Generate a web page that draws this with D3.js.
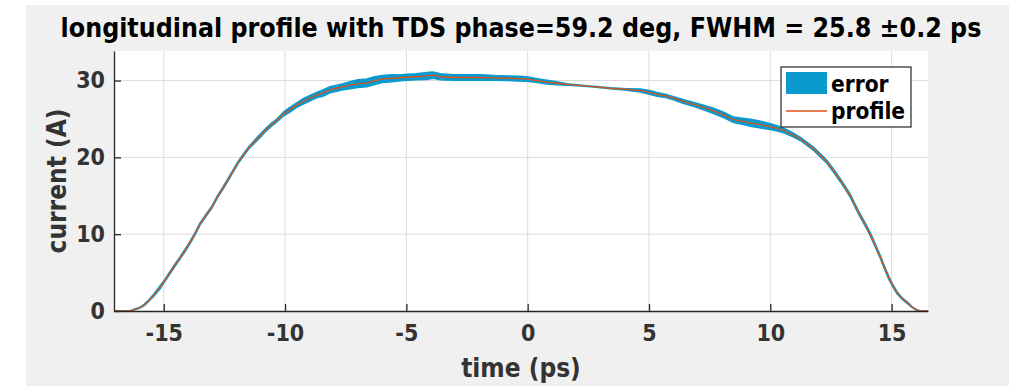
<!DOCTYPE html>
<html>
<head>
<meta charset="utf-8">
<script src="https://cdn.jsdelivr.net/npm/d3@7"></script>
<style>
  body { margin: 0; background: #fff; }
  svg { display: block; }
</style>
</head>
<body>
<div id="chart"></div>
<script>
const chartTitle = "longitudinal profile with TDS phase=59.2 deg, FWHM = 25.8 \u00b10.2 ps"
const xLabel = "time (ps)"
const yLabel = "current (A)"
const legendLabels = ["error", "profile"]
const xTicks = [-15, -10, -5, 0, 5, 10, 15]
const yTicks = [0, 10, 20, 30]

// time axis of the measured profile (ps)
const timePs = [
  -17.0, -16.4, -16.2, -16.0, -15.8, -15.6, -15.4, -15.15, -14.95, -14.74,
  -14.55, -14.33, -14.12, -13.92, -13.72, -13.51, -13.25, -13.02, -12.78, -12.54,
  -12.33, -12.13, -11.92, -11.72, -11.48, -11.24, -11.0, -10.82, -10.58, -10.34,
  -10.04, -9.8, -9.52, -9.25, -8.97, -8.7, -8.42, -8.15, -7.87, -7.6,
  -7.32, -7.0, -6.63, -6.3, -6.0, -5.6, -5.12, -4.6, -4.16, -3.9,
  -3.6, -3.06, -2.5, -1.96, -1.4, -0.86, -0.4, -0.03, 0.4, 0.79,
  1.2, 1.62, 2.2, 2.71, 3.4, 4.09, 4.64, 4.98, 5.33, 5.7,
  6.01, 6.4, 6.84, 7.25, 7.66, 8.1, 8.49, 8.85, 9.18, 9.55,
  9.93, 10.25, 10.55, 10.9, 11.24, 11.5, 11.79, 12.05, 12.34, 12.6,
  12.89, 13.1, 13.3, 13.5, 13.71, 13.92, 14.12, 14.33, 14.54, 14.7,
  14.88, 15.05, 15.22, 15.44, 15.64, 15.85, 16.05, 16.2, 16.5
]
// current (A)
const currentA = [
  0, 0, 0.2, 0.4, 0.8, 1.4, 2.1, 3.1, 4.0, 5.0,
  5.9, 6.9, 7.9, 8.9, 10.0, 11.3, 12.5, 13.5, 14.9, 16.1,
  17.2, 18.3, 19.4, 20.3, 21.3, 22.1, 22.9, 23.5, 24.2, 24.8,
  25.7, 26.2, 26.8, 27.3, 27.7, 28.1, 28.4, 28.8, 29.0, 29.2,
  29.4, 29.6, 29.7, 30.0, 30.2, 30.3, 30.4, 30.5, 30.6, 30.7,
  30.5, 30.4, 30.4, 30.4, 30.35, 30.3, 30.25, 30.2, 30.0, 29.8,
  29.65, 29.5, 29.35, 29.2, 29.0, 28.85, 28.7, 28.5, 28.2, 28.0,
  27.7, 27.3, 26.9, 26.5, 26.05, 25.5, 24.9, 24.7, 24.5, 24.3,
  24.05, 23.8, 23.5, 23.0, 22.4, 21.8, 21.1, 20.3, 19.4, 18.3,
  17.0, 16.0, 15.0, 13.7, 12.4, 11.2, 10.0, 8.5, 7.0, 5.7,
  4.35, 3.3, 2.4, 1.6, 1.1, 0.5, 0.1, 0, 0
]
// error half width (A)
const errorA = [
  0, 0, 0.05, 0.05, 0.1, 0.1, 0.15, 0.2, 0.15, 0.15,
  0.15, 0.15, 0.15, 0.15, 0.15, 0.15, 0.15, 0.15, 0.15, 0.15,
  0.15, 0.15, 0.15, 0.15, 0.15, 0.2, 0.2, 0.2, 0.2, 0.2,
  0.25, 0.3, 0.3, 0.35, 0.35, 0.35, 0.4, 0.4, 0.4, 0.4,
  0.45, 0.5, 0.5, 0.5, 0.45, 0.45, 0.4, 0.4, 0.45, 0.4,
  0.4, 0.35, 0.35, 0.35, 0.3, 0.3, 0.3, 0.3, 0.25, 0.25,
  0.2, 0.1, 0.05, 0.05, 0.05, 0.1, 0.2, 0.25, 0.25, 0.2,
  0.2, 0.25, 0.25, 0.3, 0.35, 0.35, 0.35, 0.4, 0.45, 0.45,
  0.4, 0.35, 0.3, 0.25, 0.2, 0.2, 0.2, 0.2, 0.2, 0.2,
  0.2, 0.2, 0.2, 0.2, 0.2, 0.2, 0.2, 0.2, 0.2, 0.2,
  0.2, 0.15, 0.15, 0.1, 0.1, 0.05, 0.05, 0, 0
]

const width = 1009, height = 386
const plot = { left: 114, right: 928, top: 51, bottom: 311 }
const errColor = "#0a9acd"
const lineColor = "#d95319"
const axisColor = "#262626"
const labelColor = "#333"
const font = "'DejaVu Sans Condensed', 'DejaVu Sans', sans-serif"

const data = timePs.map((t, i) => ({ t: t, v: currentA[i], e: errorA[i] }))

const x = d3.scaleLinear().domain([-17.05, 16.5]).range([plot.left, plot.right])
const y = d3.scaleLinear().domain([0, 33.85]).range([plot.bottom, plot.top])

const svg = d3.select("#chart").append("svg")
  .attr("width", width)
  .attr("height", height)
  .attr("viewBox", `0 0 ${width} ${height}`)
  .style("font-stretch", "condensed")

// figure background
svg.append("rect")
  .attr("x", 26).attr("y", 5)
  .attr("width", width - 26).attr("height", height - 5)
  .attr("fill", "#f0f0f0")

svg.append("rect")
  .attr("x", plot.left).attr("y", plot.top)
  .attr("width", plot.right - plot.left).attr("height", plot.bottom - plot.top)
  .attr("fill", "#fff")

// grid
const grid = svg.append("g")
grid.selectAll(".vg")
  .data(xTicks)
  .join("line")
    .attr("x1", d => x(d)).attr("x2", d => x(d))
    .attr("y1", plot.top).attr("y2", plot.bottom)
    .attr("stroke", "#dcdcdc")
    .attr("stroke-width", 1)
grid.selectAll(".hg")
  .data(yTicks.filter(d => d > 0))
  .join("line")
    .attr("x1", plot.left).attr("x2", plot.right)
    .attr("y1", d => y(d)).attr("y2", d => y(d))
    .attr("stroke", "#dcdcdc")
    .attr("stroke-width", 1)

// error band
const band = d3.area()
  .x(d => x(d.t))
  .y0(d => y(d.v - d.e))
  .y1(d => y(d.v + d.e))
svg.append("path")
  .datum(data)
  .attr("d", band)
  .attr("fill", errColor)
  .attr("stroke", errColor)
  .attr("stroke-width", 1.5)

// profile line
const line = d3.line()
  .x(d => x(d.t))
  .y(d => y(d.v))
svg.append("path")
  .datum(data)
  .attr("d", line)
  .attr("fill", "none")
  .attr("stroke", lineColor)
  .attr("stroke-width", 1.3)

// axes
const xAxis = d3.axisBottom(x)
  .tickValues(xTicks)
  .tickSizeInner(-7)
  .tickSizeOuter(0)
  .tickPadding(14)
  .tickFormat(d => String(d))
const gx = svg.append("g")
  .attr("transform", `translate(0, ${plot.bottom})`)
  .call(xAxis)

const yAxis = d3.axisLeft(y)
  .tickValues(yTicks)
  .tickSizeInner(-7)
  .tickSizeOuter(0)
  .tickPadding(9)
  .tickFormat(d => String(d))
const gy = svg.append("g")
  .attr("transform", `translate(${plot.left}, 0)`)
  .call(yAxis)

for (const g of [gx, gy]) {
  g.select(".domain").attr("stroke", axisColor).attr("stroke-width", 1.3)
  g.selectAll(".tick line").attr("stroke", axisColor).attr("stroke-width", 1.3)
  g.selectAll(".tick text")
    .attr("fill", labelColor)
    .style("font-family", font)
    .style("font-size", "23px")
    .style("font-weight", "bold")
}

// labels
svg.append("text")
  .attr("x", (plot.left + plot.right) / 2)
  .attr("y", 37)
  .attr("text-anchor", "middle")
  .style("font-family", font)
  .style("font-size", "26.5px")
  .style("font-weight", "bold")
  .attr("fill", "#000")
  .text(chartTitle)

svg.append("text")
  .attr("x", (plot.left + plot.right) / 2)
  .attr("y", 377)
  .attr("text-anchor", "middle")
  .style("font-family", font)
  .style("font-size", "26px")
  .style("font-weight", "bold")
  .attr("fill", labelColor)
  .text(xLabel)

svg.append("text")
  .attr("transform", `translate(57, ${(plot.top + plot.bottom) / 2}) rotate(-90)`)
  .attr("text-anchor", "middle")
  .attr("dominant-baseline", "central")
  .style("font-family", font)
  .style("font-size", "26px")
  .style("font-weight", "bold")
  .attr("fill", labelColor)
  .text(yLabel)

// legend
const legend = svg.append("g")
legend.append("rect")
  .attr("x", 781).attr("y", 67)
  .attr("width", 130).attr("height", 60)
  .attr("fill", "#fff")
  .attr("stroke", axisColor)
  .attr("stroke-width", 1.2)
legend.append("rect")
  .attr("x", 786).attr("y", 72)
  .attr("width", 41).attr("height", 22)
  .attr("fill", errColor)
legend.append("line")
  .attr("x1", 786).attr("x2", 827)
  .attr("y1", 111).attr("y2", 111)
  .attr("stroke", lineColor)
  .attr("stroke-width", 1.3)
legend.selectAll(".lt")
  .data(legendLabels)
  .join("text")
    .attr("x", 831)
    .attr("y", (d, i) => i === 0 ? 84 : 111)
    .attr("dominant-baseline", "central")
    .style("font-family", font)
    .style("font-size", "22.5px")
    .style("font-weight", "bold")
    .attr("fill", "#000")
    .text(d => d)
</script>
</body>
</html>
